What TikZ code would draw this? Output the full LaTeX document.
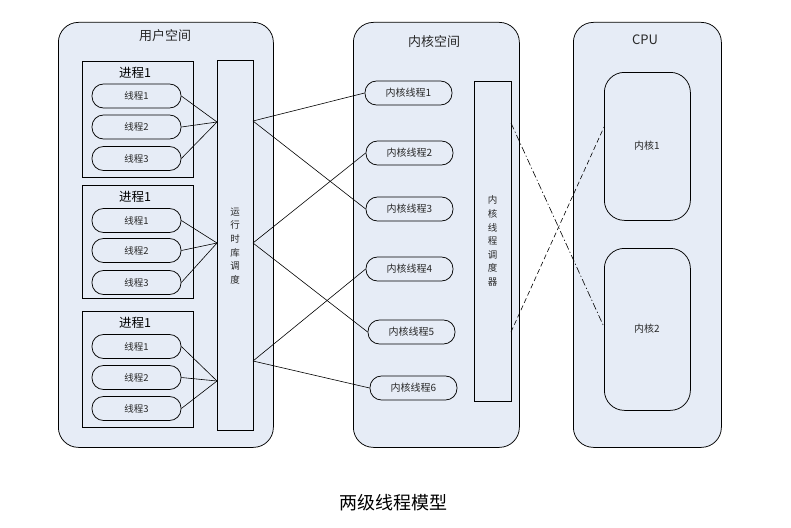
\documentclass[tikz,border=0pt]{standalone}
\usepackage{fontspec}
\newfontfamily\cjk{Noto Sans CJK SC}
\definecolor{bgc}{RGB}{230,236,246}
\definecolor{txt}{RGB}{40,40,40}
\begin{document}
\begin{tikzpicture}[x=1pt,y=-1pt,
  cont/.style={draw, fill=bgc, rounded corners=20pt, line width=0.75pt, inner sep=0, anchor=north west},
  box/.style={draw, fill=bgc, line width=0.75pt, inner sep=0, anchor=north west},
  thr/.style={draw, fill=bgc, rounded corners=11.5pt, minimum width=89pt, minimum height=24pt, inner sep=0, line width=0.75pt, font=\cjk\fontsize{9.5}{10}\selectfont, text=txt},
  kthr/.style={thr, minimum width=87pt, font=\cjk\fontsize{10}{11}\selectfont},
  core/.style={draw, fill=bgc, rounded corners=20pt, line width=0.75pt, inner sep=0, anchor=north west, minimum width=86pt},
  ttl/.style={font=\cjk\fontsize{13}{14}\selectfont, text=txt},
  ptl/.style={font=\cjk\fontsize{12.5}{13}\selectfont, text=black},
  vtxt/.style={font=\cjk\fontsize{9.5}{13.6}\selectfont, align=center, text=txt, inner sep=0},
  ln/.style={line width=0.6pt}]
\path[use as bounding box] (0,0) rectangle (791,527);
% containers
\node[cont, minimum width=215pt, minimum height=425pt] (us) at (58,22) {};
\node[cont, minimum width=166pt, minimum height=425pt] (ks) at (353,22) {};
\node[cont, minimum width=148pt, minimum height=425pt] (cpu) at (573,22) {};
\node[ttl] (ust) at (165,36) {用户空间};
\node[ttl] (kst) at (434,42) {内核空间};
\node[ttl] (cput) at (645,40) {CPU};
% processes
\node[box, minimum width=111pt, minimum height=116pt] (p1) at (82,61) {};
\node[box, minimum width=111pt, minimum height=113pt] (p2) at (82,185) {};
\node[box, minimum width=111pt, minimum height=116pt] (p3) at (82,311) {};
\node[ptl] (p1t) at (135,73) {进程1};
\node[ptl] (p2t) at (135,197) {进程1};
\node[ptl] (p3t) at (135,323) {进程1};
% threads
\node[thr] (t11) at (136.5,96) {线程1};
\node[thr] (t12) at (136.5,127) {线程2};
\node[thr] (t13) at (136.5,158.5) {线程3};
\node[thr] (t21) at (136.5,220.5) {线程1};
\node[thr] (t22) at (136.5,250.5) {线程2};
\node[thr] (t23) at (136.5,282.5) {线程3};
\node[thr] (t31) at (136.5,346.5) {线程1};
\node[thr] (t32) at (136.5,377.5) {线程2};
\node[thr] (t33) at (136.5,408.5) {线程3};
% runtime scheduler
\node[box, minimum width=36pt, minimum height=370pt] (rt) at (217,60) {};
\node[vtxt] (rtt) at (235,246) {运\\行\\时\\库\\调\\度};
% kernel threads
\node[kthr] (k1) at (408.5,93) {内核线程1};
\node[kthr] (k2) at (409.5,153) {内核线程2};
\node[kthr] (k3) at (409.5,209) {内核线程3};
\node[kthr] (k4) at (409.5,269) {内核线程4};
\node[kthr] (k5) at (411.5,332) {内核线程5};
\node[kthr] (k6) at (413.5,388) {内核线程6};
% kernel scheduler
\node[box, minimum width=37pt, minimum height=320pt] (ksch) at (474,81) {};
\node[vtxt] (kscht) at (492.5,241) {内\\核\\线\\程\\调\\度\\器};
% cores
\node[core, minimum height=148pt] (c1) at (604,72) {};
\node[core, minimum height=162pt] (c2) at (604,248) {};
\node[font=\cjk\fontsize{10}{11}\selectfont, text=txt] (c1t) at (647,146) {内核1};
\node[font=\cjk\fontsize{10}{11}\selectfont, text=txt] (c2t) at (647,329) {内核2};
% junction points
\coordinate (rl1) at (217,122);
\coordinate (rl2) at (217,243);
\coordinate (rl3) at (217,381);
\coordinate (rr1) at (253,121);
\coordinate (rr2) at (253,243);
\coordinate (rr3) at (253,361);
\coordinate (ks1) at (511,123);
\coordinate (ks2) at (511,332);
\coordinate (cc1) at (604,127);
\coordinate (cc2) at (604,327);
% connectors
\foreach \a/\b in {t11/rl1,t12/rl1,t13/rl1,t21/rl2,t22/rl2,t23/rl2,t31/rl3,t32/rl3,t33/rl3}
  \draw[ln] (\a.east) -- (\b);
\draw[ln] (rr1) -- (k1.west);
\draw[ln] (rr1) -- (k3.west);
\draw[ln] (rr2) -- (k2.west);
\draw[ln] (rr2) -- (k5.west);
\draw[ln] (rr3) -- (k4.west);
\draw[ln] (rr3) -- (k6.west);
\draw[ln, dash pattern=on 7pt off 2.5pt on 1.2pt off 2.5pt] (ks1) -- (cc2);
\draw[ln, dash pattern=on 5pt off 3pt] (ks2) -- (cc1);
% caption
\node[font=\cjk\fontsize{18}{20}\selectfont] (cap) at (393,503) {两级线程模型};
\end{tikzpicture}
\end{document}
